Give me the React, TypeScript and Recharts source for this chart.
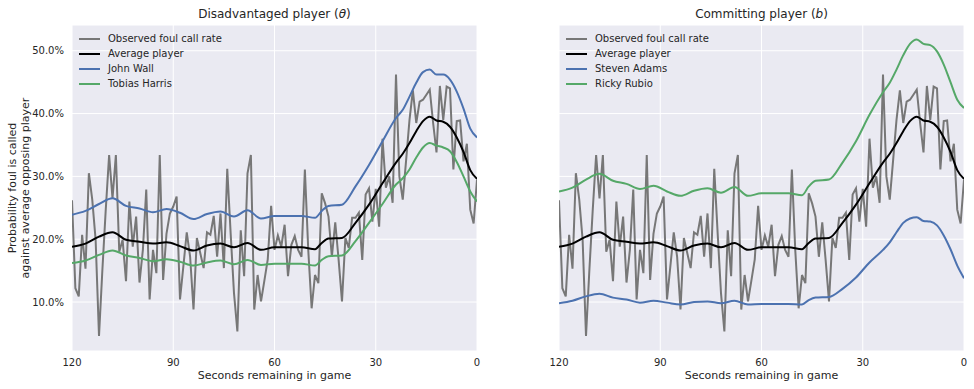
import React from 'react';
import { LineChart, Line, XAxis, YAxis, CartesianGrid } from 'recharts';

const seconds: number[] = Array.from({ length: 121 }, (_, i) => 120 - i);

// observed foul call rate (%), from 120 s down to 0 s
const observed = [
  26.2, 12.2, 10.9, 20.7, 15.3, 30.5, 26.3, 19.9, 4.6, 15.1,
  24.7, 33.4, 26.5, 33.4, 18.0, 19.9, 13.3, 26.0, 18.8, 23.6,
  13.1, 18.3, 27.9, 10.4, 18.3, 14.6, 33.4, 13.5, 20.9, 24.1,
  25.2, 26.8, 10.4, 15.7, 21.1, 17.2, 8.8, 20.2, 17.8, 15.4,
  21.1, 20.7, 23.7, 17.2, 24.1, 15.4, 31.2, 21.0, 11.4, 5.3,
  21.4, 14.1, 30.5, 33.4, 8.8, 14.3, 10.1, 13.4, 16.8, 25.3,
  18.3, 20.6, 18.8, 22.3, 14.1, 19.1, 20.5, 18.3, 17.2, 31.1,
  18.3, 9.0, 14.3, 13.0, 27.3, 25.7, 23.6, 17.2, 22.7, 16.7,
  10.1, 20.2, 18.6, 23.4, 23.4, 24.2, 16.7, 27.1, 28.1, 22.8,
  28.0, 22.0, 36.0, 28.2, 30.0, 25.8, 46.2, 30.0, 26.3, 32.6,
  39.0, 43.7, 38.5, 41.9, 42.2, 43.0, 43.8, 38.5, 33.8, 44.4,
  39.0, 44.3, 44.0, 31.1, 38.8, 38.9, 32.4, 35.2, 24.7, 22.5,
  29.5,
];

const smoothSeconds = [
  120, 116, 112, 108, 104, 100, 96, 92, 88, 84, 80, 76, 72, 68, 64, 60, 56, 52, 48,
  46, 44, 40, 36, 32, 28, 24, 22, 20, 18, 16, 14, 12, 10, 8, 6, 4, 2, 0,
];

const averagePlayer = [
  18.8, 19.3, 20.4, 21.1, 19.9, 19.6, 19.3, 19.5, 18.9, 18.2, 19.0, 19.3, 18.7, 19.4, 18.3, 18.7, 18.7, 18.7, 18.4,
  19.4, 20.1, 20.2, 22.6, 25.5, 28.9, 32.2, 33.6, 35.3, 37.2, 38.8, 39.5, 38.9, 38.7, 37.9, 36.2, 33.9, 31.0, 29.6,
];

const johnWall = [
  23.9, 24.5, 25.6, 26.5, 25.3, 24.9, 24.3, 24.8, 24.2, 23.2, 24.0, 24.4, 23.6, 24.6, 23.3, 23.7, 23.7, 23.7, 23.4,
  24.5, 25.3, 25.5, 28.4, 31.8, 35.6, 39.3, 40.6, 42.7, 44.9, 46.6, 47.0, 46.2, 46.2, 45.4, 43.5, 40.8, 37.6, 36.2,
];

const tobiasHarris = [
  16.2, 16.6, 17.5, 18.2, 17.4, 17.0, 16.5, 16.8, 16.4, 15.8, 16.3, 16.6, 16.0, 16.7, 15.9, 16.1, 16.1, 16.1, 15.8,
  16.7, 17.3, 17.4, 19.7, 22.6, 25.6, 28.7, 29.7, 31.1, 33.0, 34.6, 35.3, 34.9, 34.6, 34.0, 32.3, 30.0, 27.6, 26.0,
];

const stevenAdams = [
  9.8, 10.2, 10.9, 11.3, 10.7, 10.4, 9.9, 10.2, 9.9, 9.6, 10.0, 10.1, 9.8, 10.2, 9.6, 9.7, 9.7, 9.7, 9.6,
  10.3, 10.7, 10.8, 12.1, 13.9, 16.3, 18.3, 19.5, 21.1, 22.6, 23.3, 23.5, 22.9, 22.8, 22.2, 20.6, 18.4, 15.8, 13.8,
];

const rickyRubio = [
  27.6, 28.2, 29.5, 30.4, 29.3, 28.8, 28.0, 28.5, 27.6, 26.9, 27.7, 28.1, 27.4, 28.3, 26.9, 27.3, 27.3, 27.3, 27.0,
  28.4, 29.3, 29.5, 32.2, 35.6, 39.8, 43.4, 44.9, 47.0, 49.3, 51.1, 51.8, 51.1, 50.9, 49.9, 47.8, 45.0, 42.2, 40.9,
];

const xTicks = [120, 90, 60, 30, 0];
const yTicks = [10, 20, 30, 40, 50];
const yDomain: [number, number] = [2.2, 54.1];

const rows = seconds.map((t, i) => {
  const row: Record<string, number> = { t, observed: observed[i] };
  const j = smoothSeconds.indexOf(t);
  if (j >= 0) {
    row.average = averagePlayer[j];
    row.wall = johnWall[j];
    row.harris = tobiasHarris[j];
    row.adams = stevenAdams[j];
    row.rubio = rickyRubio[j];
  }
  return row;
});

const FONT = '"DejaVu Sans", sans-serif';
const TEXT = '#262626';
const GRAY = '#777777';
const BLACK = '#000000';
const BLUE = '#4C72B0';
const GREEN = '#55A868';

type SeriesDef = { key: string; label: string; color: string };

function LegendBox({ left, top, items }: { left: number; top: number; items: SeriesDef[] }) {
  return (
    <div style={{ position: 'absolute', left, top, fontFamily: FONT, fontSize: 10, color: TEXT }}>
      {items.map((it) => (
        <div key={it.key} style={{ display: 'flex', alignItems: 'center', height: 15 }}>
          <svg width={21} height={4} style={{ marginRight: 8 }}>
            <line x1={0} y1={2} x2={21} y2={2} stroke={it.color} strokeWidth={2} />
          </svg>
          <span style={{ whiteSpace: 'nowrap' }}>{it.label}</span>
        </div>
      ))}
    </div>
  );
}

function Panel({
  left,
  width,
  marginLeft,
  marginRight,
  showY,
  series,
}: {
  left: number;
  width: number;
  marginLeft: number;
  marginRight: number;
  showY: boolean;
  series: SeriesDef[];
}) {
  const tick = { fontSize: 10, fill: TEXT, fontFamily: FONT };
  return (
    <div style={{ position: 'absolute', left, top: 0 }}>
      <LineChart
        width={width}
        height={389}
        data={rows}
        margin={{ top: 25, right: marginRight, bottom: 8, left: marginLeft }}
      >
        <CartesianGrid fill="#EAEAF2" stroke="#FFFFFF" strokeWidth={1} />
        <XAxis
          dataKey="t"
          type="number"
          domain={[0, 120]}
          reversed
          ticks={xTicks}
          axisLine={false}
          tickLine={false}
          tick={tick}
          height={30}
          allowDataOverflow
        />
        <YAxis
          type="number"
          domain={yDomain}
          ticks={yTicks}
          allowDataOverflow
          hide={!showY}
          width={72}
          axisLine={false}
          tickLine={false}
          tick={tick}
          tickFormatter={(v: number) => `${v.toFixed(1)}%`}
        />
        {series.map((s) => (
          <Line
            key={s.key}
            dataKey={s.key}
            stroke={s.color}
            strokeWidth={2}
            dot={false}
            activeDot={false}
            type={s.key === 'observed' ? 'linear' : 'monotone'}
            connectNulls
            isAnimationActive={false}
          />
        ))}
      </LineChart>
    </div>
  );
}

const leftSeries: SeriesDef[] = [
  { key: 'observed', label: 'Observed foul call rate', color: GRAY },
  { key: 'average', label: 'Average player', color: BLACK },
  { key: 'wall', label: 'John Wall', color: BLUE },
  { key: 'harris', label: 'Tobias Harris', color: GREEN },
];

const rightSeries: SeriesDef[] = [
  { key: 'observed', label: 'Observed foul call rate', color: GRAY },
  { key: 'average', label: 'Average player', color: BLACK },
  { key: 'adams', label: 'Steven Adams', color: BLUE },
  { key: 'rubio', label: 'Ricky Rubio', color: GREEN },
];

const centered = (cx: number, cy: number, size: number, text: React.ReactNode) => (
  <div
    style={{
      position: 'absolute',
      left: cx - 200,
      top: cy - size,
      width: 400,
      height: size * 2,
      lineHeight: `${size * 2}px`,
      textAlign: 'center',
      fontFamily: FONT,
      fontSize: size,
      color: TEXT,
      whiteSpace: 'nowrap',
    }}
  >
    {text}
  </div>
);

export default function App() {
  return (
    <div style={{ position: 'absolute', left: 0, top: 0, width: 974, height: 389, background: '#fff', overflow: 'hidden' }}>
      <Panel left={0} width={490} marginLeft={0} marginRight={13} showY series={leftSeries} />
      <Panel left={545} width={429} marginLeft={14} marginRight={10} showY={false} series={rightSeries} />
      <LegendBox left={79} top={31} items={leftSeries} />
      <LegendBox left={566} top={31} items={rightSeries} />
      {centered(274.5, 14, 12, <>Disadvantaged player (<i>θ</i>)</>)}
      {centered(761.5, 14, 12, <>Committing player (<i>b</i>)</>)}
      {centered(274.5, 376, 11, 'Seconds remaining in game')}
      {centered(761.5, 376, 11, 'Seconds remaining in game')}
      <div
        style={{
          position: 'absolute',
          left: 20 - 150,
          top: 188 - 13,
          width: 300,
          height: 26,
          transform: 'rotate(-90deg)',
          transformOrigin: '150px 13px',
          textAlign: 'center',
          fontFamily: FONT,
          fontSize: 11,
          lineHeight: '12.5px',
          color: TEXT,
          whiteSpace: 'nowrap',
        }}
      >
        Probability foul is called
        <br />
        against average opposing player
      </div>
    </div>
  );
}
